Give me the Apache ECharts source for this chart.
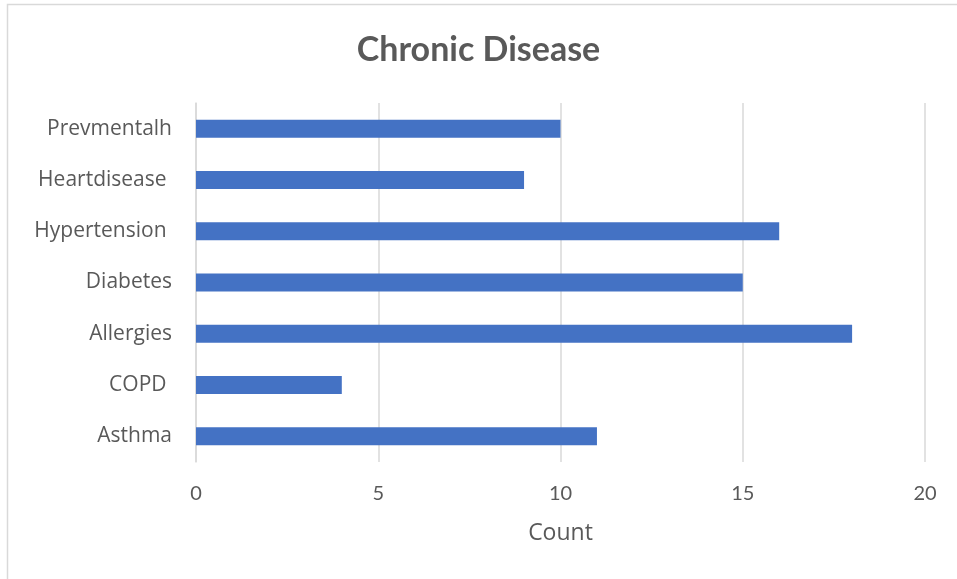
<!DOCTYPE html>
<html>
<head>
<meta charset="utf-8">
<script src="https://cdn.jsdelivr.net/npm/echarts@6/dist/echarts.min.js"></script>
<style>
  html, body { margin: 0; padding: 0; background: #ffffff; }
  #chart { width: 957px; height: 579px; }
</style>
</head>
<body>
<div id="chart"></div>
<script>
// Categories listed bottom-to-top (category axis starts at the bottom)
const categories = ['Asthma', 'COPD ', 'Allergies', 'Diabetes', 'Hypertension ', 'Heartdisease ', 'Prevmentalh'];
const counts = [11, 4, 18, 15, 16, 9, 10];
const xTicks = { min: 0, max: 20, interval: 5 };

const FONT = 'Lato, "Noto Sans", sans-serif';
const LABEL_FONT = '"Open Sans", "Noto Sans", sans-serif';
const TEXT = '#595959';

const chart = echarts.init(document.getElementById('chart'), null, { renderer: 'canvas' });
chart.setOption({
  animation: false,
  backgroundColor: '#ffffff',
  title: {
    text: 'Chronic Disease',
    left: 'center',
    top: 28,
    textStyle: { fontFamily: FONT, fontWeight: 'bold', fontSize: 34, color: TEXT }
  },
  graphic: [{
    type: 'rect',
    shape: { x: 7.5, y: 4.5, width: 960, height: 590 },
    style: { fill: 'none', stroke: '#d9d9d9', lineWidth: 1.5 },
    silent: true
  }],
  grid: { left: 196, right: 32, top: 103, bottom: 117 },
  xAxis: {
    type: 'value',
    min: xTicks.min, max: xTicks.max, interval: xTicks.interval,
    name: 'Count',
    nameLocation: 'middle',
    nameGap: 60,
    nameTextStyle: { fontFamily: LABEL_FONT, fontSize: 23, color: TEXT },
    axisLine: { show: false },
    axisTick: { show: false },
    axisLabel: { fontFamily: FONT, fontSize: 20, color: TEXT, margin: 22 },
    splitLine: { show: true, lineStyle: { color: '#d9d9d9', width: 1.5 } }
  },
  yAxis: {
    type: 'category',
    data: categories,
    axisLine: { show: true, lineStyle: { color: '#d9d9d9', width: 1.5 } },
    axisTick: { show: false },
    axisLabel: { fontFamily: LABEL_FONT, fontSize: 21, color: TEXT, margin: 24 }
  },
  series: [{
    type: 'bar',
    data: counts,
    barWidth: 18,
    itemStyle: { color: '#4472c4' }
  }]
});
</script>
</body>
</html>
